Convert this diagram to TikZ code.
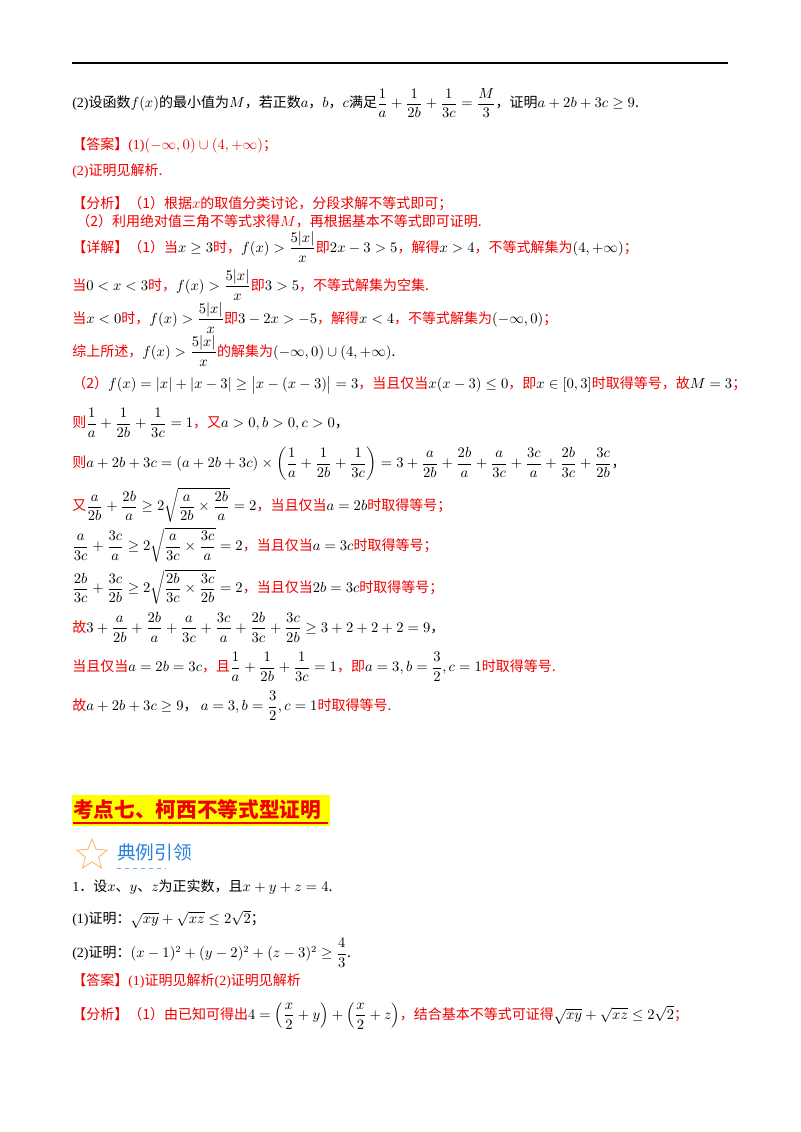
\documentclass[tikz,border=0pt]{standalone}
\usepackage{amsmath,amssymb}
\usepackage[no-math]{fontspec}
\setmainfont{Noto Sans CJK SC}
\newfontfamily\tms{Liberation Serif}
\usetikzlibrary{shapes.geometric}
\definecolor{rd}{RGB}{240,0,0}
\definecolor{bl}{RGB}{40,130,220}
\definecolor{hy}{RGB}{255,255,0}
\newcommand{\R}[1]{\textcolor{rd}{#1}}
\newcommand{\T}[1]{{\tms #1}}
\newcommand{\fr}[2]{\dfrac{#1}{#2}}
\begin{document}
\begin{tikzpicture}[x=0.75pt,y=-0.75pt,
  ln/.style={anchor=west,inner sep=0pt,font=\fontsize{10.5}{13}\selectfont}]
\useasboundingbox (0,0) rectangle (800,1132);
\fill[white] (0,0) rectangle (800,1132);
\draw[line width=0.8pt] (72,63) -- (728,63);
\node[ln] (l1) at (72,103) {\T{(2)}设函数$f(x)$的最小值为$M$，若正数$a$，$b$，$c$满足$\fr{1}{a}+\fr{1}{2b}+\fr{1}{3c}=\fr{M}{3}$，证明$a+2b+3c\ge9$.};
\node[ln,text=rd] (l2) at (72,145) {【答案】\T{(1)}$(-\infty,0)\cup(4,+\infty)$；};
\node[ln,text=rd] (l3) at (72,171) {\T{(2)}证明见解析.};
\node[ln,text=rd] (l4) at (72,204) {【分析】（1）根据$x$的取值分类讨论，分段求解不等式即可；};
\node[ln,text=rd] (l5) at (76,221) {（2）利用绝对值三角不等式求得$M$，再根据基本不等式即可证明.};
\node[ln] (l6) at (72,247) {\R{【详解】（1）当}$x\ge3$\R{时，}$f(x)>\fr{5|x|}{x}$\R{即}$2x-3>5$\R{，解得}$x>4$\R{，不等式解集为}$(4,+\infty)$\R{；}};
\node[ln] (l7) at (72,285) {\R{当}$0<x<3$\R{时，}$f(x)>\fr{5|x|}{x}$\R{即}$3>5$\R{，不等式解集为空集.}};
\node[ln] (l8) at (72,318) {\R{当}$x<0$\R{时，}$f(x)>\fr{5|x|}{x}$\R{即}$3-2x>-5$\R{，解得}$x<4$\R{，不等式解集为}$(-\infty,0)$\R{；}};
\node[ln] (l9) at (72,351) {\R{综上所述，}$f(x)>\fr{5|x|}{x}$\R{的解集为}$(-\infty,0)\cup(4,+\infty)$.};
\node[ln] (l10) at (72,385) {\R{（2）}$f(x)=|x|+|x-3|\ge\bigl|x-(x-3)\bigr|=3$\R{，当且仅当}$x(x-3)\le0$\R{，即}$x\in[0,3]$\R{时取得等号，故}$M=3$\R{；}};
\node[ln] (l11) at (72,423) {\R{则}$\fr{1}{a}+\fr{1}{2b}+\fr{1}{3c}=1$\R{，又}$a>0,b>0,c>0$，};
\node[ln] (l12) at (72,464) {\R{则}$a+2b+3c=(a+2b+3c)\times\left(\fr{1}{a}+\fr{1}{2b}+\fr{1}{3c}\right)=3+\fr{a}{2b}+\fr{2b}{a}+\fr{a}{3c}+\fr{3c}{a}+\fr{2b}{3c}+\fr{3c}{2b}$，};
\node[ln] (l13) at (72,505) {\R{又}$\fr{a}{2b}+\fr{2b}{a}\ge2\sqrt{\fr{a}{2b}\times\fr{2b}{a}}=2$\R{，当且仅当}$a=2b$\R{时取得等号；}};
\node[ln] (l14) at (72,545) {$\fr{a}{3c}+\fr{3c}{a}\ge2\sqrt{\fr{a}{3c}\times\fr{3c}{a}}=2$\R{，当且仅当}$a=3c$\R{时取得等号；}};
\node[ln] (l15) at (72,587) {$\fr{2b}{3c}+\fr{3c}{2b}\ge2\sqrt{\fr{2b}{3c}\times\fr{3c}{2b}}=2$\R{，当且仅当}$2b=3c$\R{时取得等号；}};
\node[ln] (l16) at (72,627) {\R{故}$3+\fr{a}{2b}+\fr{2b}{a}+\fr{a}{3c}+\fr{3c}{a}+\fr{2b}{3c}+\fr{3c}{2b}\ge3+2+2+2=9$，};
\node[ln] (l17) at (72,667) {\R{当且仅当}$a=2b=3c$\R{，且}$\fr{1}{a}+\fr{1}{2b}+\fr{1}{3c}=1$\R{，即}$a=3,b=\fr{3}{2},c=1$\R{时取得等号.}};
\node[ln] (l18) at (72,706) {\R{故}$a+2b+3c\ge9$，\ $a=3,b=\fr{3}{2},c=1$\R{时取得等号.}};
% heading
\fill[hy] (72,795) rectangle (330,826);
\node[anchor=west,inner sep=0pt,text=rd,font=\fontsize{15.5}{18}\selectfont\bfseries] (h) at (73,810) {考点七、柯西不等式型证明};
\draw[rd,line width=1.2pt] (73,823) -- (328,823);
\node[star,star points=5,star point ratio=2.3,draw=orange!60,line width=0.6pt,minimum size=24pt,inner sep=0pt] (st) at (92,855) {};
\node[anchor=west,inner sep=0pt,text=bl,font=\fontsize{14}{16}\selectfont] (dl) at (117,852) {典例引领};
\draw[bl!70,dashed,line width=0.7pt] (117,868) -- (166,868);
\node[ln] (m1) at (72,887) {\T{1}．设$x$、$y$、$z$为正实数，且$x+y+z=4$.};
\node[ln] (m2) at (72,919) {\T{(1)}证明：$\sqrt{xy}+\sqrt{xz}\le2\sqrt2$；};
\node[ln] (m3) at (72,953) {\T{(2)}证明：$(x-1)^2+(y-2)^2+(z-3)^2\ge\fr{4}{3}$.};
\node[ln,text=rd] (m4) at (72,981) {【答案】\T{(1)}证明见解析\T{(2)}证明见解析};
\node[ln] (m5) at (72,1016) {\R{【分析】（1）由已知可得出}$4=\left(\fr{x}{2}+y\right)+\left(\fr{x}{2}+z\right)$\R{，结合基本不等式可证得}$\sqrt{xy}+\sqrt{xz}\le2\sqrt2$\R{；}};
\end{tikzpicture}
\end{document}
